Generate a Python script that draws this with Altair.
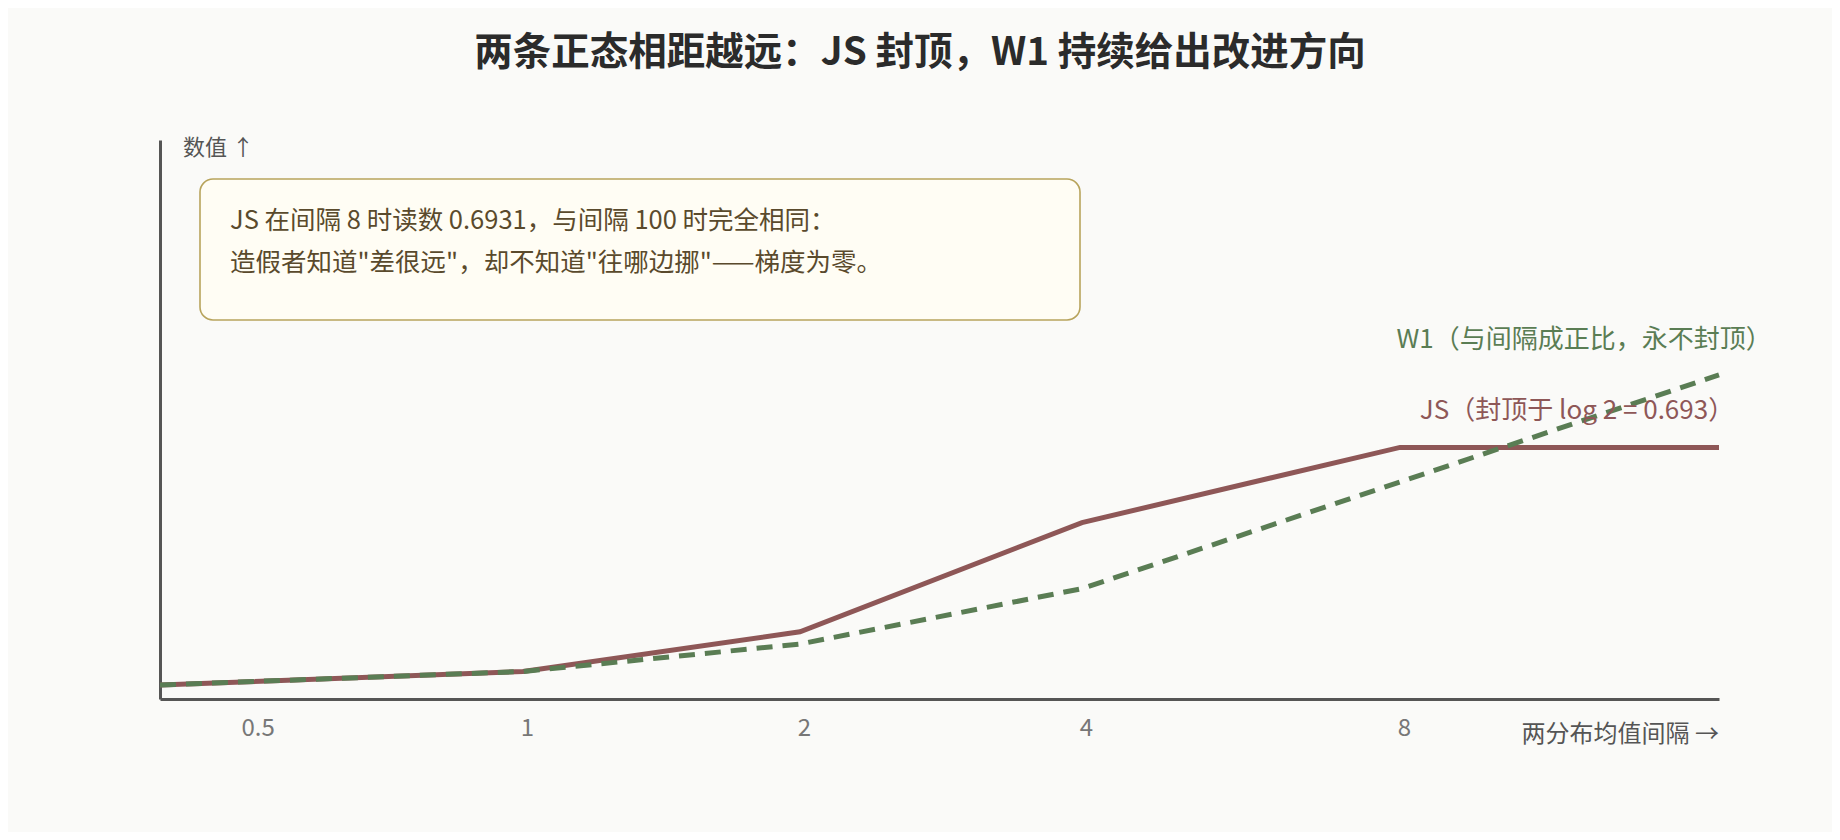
import altair as alt
import pandas as pd

# ---- data ----
gaps = [0.5, 1, 2, 4, 8, 12]
js_vals = [0.0386, 0.0758, 0.185, 0.486, 0.6931, 0.6931]
w1_vals = [0.0386, 0.0758, 0.1515, 0.304, 0.598, 0.893]
tick_values = [0.5, 1, 2, 4, 8]

title_text = "两条正态相距越远：JS 封顶，W1 持续给出改进方向"
note_lines = [
    "JS 在间隔 8 时读数 0.6931，与间隔 100 时完全相同：",
    "造假者知道\"差很远\"，却不知道\"往哪边挪\"——梯度为零。",
]
w1_label = "W1（与间隔成正比，永不封顶）"
js_label = "JS（封顶于 log 2 = 0.693）"
x_title = "两分布均值间隔 →"
y_title = "数值 ↑"

FONT = "Noto Sans CJK SC"
JS_COLOR = "#8E5757"
W1_COLOR = "#5A7D54"
AXIS_COLOR = "#555555"
BG = "#FAFAF8"

W, H = 1559, 559

df = pd.DataFrame({"gap": gaps, "JS": js_vals, "W1": w1_vals})

x_scale = alt.Scale(domain=gaps, range=[0, 363, 640, 922, 1240, 1559], nice=False, zero=False)
y_scale = alt.Scale(domain=[0, 1.54], nice=False, zero=True)

x_axis = alt.Axis(
    values=tick_values, format="~g", title=None, grid=False, ticks=False,
    domainColor=AXIS_COLOR, domainWidth=3,
    labelFont=FONT, labelFontSize=24, labelColor="#777777", labelPadding=17,
    labelOffset={"condition": {"test": "datum.value == 0.5", "value": 81}, "value": 4},
)
y_axis = alt.Axis(
    title=None, labels=False, ticks=False, grid=False,
    domainColor=AXIS_COLOR, domainWidth=3,
)

js_line = alt.Chart(df).mark_line(color=JS_COLOR, strokeWidth=5).encode(
    x=alt.X("gap:Q", scale=x_scale, axis=x_axis),
    y=alt.Y("JS:Q", scale=y_scale, axis=y_axis),
)
w1_line = alt.Chart(df).mark_line(color=W1_COLOR, strokeWidth=5, strokeDash=[16, 10]).encode(
    x=alt.X("gap:Q", scale=x_scale, axis=x_axis),
    y=alt.Y("W1:Q", scale=y_scale, axis=y_axis),
)

one = pd.DataFrame({"k": [0]})


def text_layer(txt, x, y, size, color, align="left", weight="normal"):
    return alt.Chart(pd.DataFrame({"t": [txt]})).mark_text(
        font=FONT, fontSize=size, color=color, align=align, baseline="middle",
        fontWeight=weight,
    ).encode(x=alt.value(x), y=alt.value(y), text="t:N")


box = alt.Chart(one).mark_rect(
    fill="#FFFDF4", stroke="#B8A45C", strokeWidth=1.6, cornerRadius=13
).encode(x=alt.value(40), x2=alt.value(920), y=alt.value(39), y2=alt.value(180))

layers = [
    box,
    text_layer(note_lines[0], 70, 81, 25.5, "#5A4A2C"),
    text_layer(note_lines[1], 70, 123, 25.5, "#5A4A2C"),
    js_line,
    w1_line,
    text_layer(w1_label, 1424, 200, 26, W1_COLOR, align="center"),
    text_layer(js_label, 1417, 271, 26, JS_COLOR, align="center"),
    text_layer(x_title, 1559, 595, 24, AXIS_COLOR, align="right"),
    text_layer(y_title, 23, 8, 22, AXIS_COLOR),
    text_layer(title_text, 760, -87, 38.5, "#2B2B2B", align="center", weight="bold"),
]

chart = alt.layer(*layers).properties(
    width=W, height=H,
    autosize=alt.AutoSizeParams(type="none"),
    padding={"left": 152, "top": 132, "right": 113, "bottom": 133},
    background=BG,
).configure_view(stroke=None)

chart.save("out.html", embed_options={"renderer": "svg", "actions": False})
